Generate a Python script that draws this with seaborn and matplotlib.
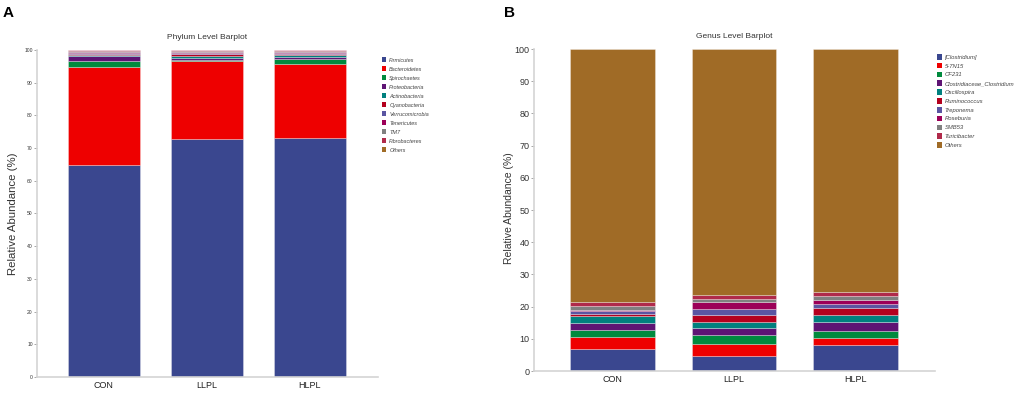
import numpy as np
import pandas as pd
import matplotlib
matplotlib.use("Agg")
import matplotlib.pyplot as plt
from matplotlib.patches import Patch
import seaborn as sns

# groups on the x axis
groups = ["CON", "LLPL", "HLPL"]

# phylum level, relative abundance (%) per group, bottom to top
phyla = ["Firmicutes", "Bacteroidetes", "Spirochaetes", "Proteobacteria", "Actinobacteria",
         "Cyanobacteria", "Verrucomicrobia", "Tenericutes", "TM7", "Fibrobacteres", "Others"]
phylum_con = [64.8, 30.0, 1.8, 1.5, 0.4, 0.3, 0.4, 0.3, 0.2, 0.2, 0.1]
phylum_llpl = [72.8, 23.7, 0.3, 0.8, 0.6, 0.4, 0.4, 0.5, 0.2, 0.2, 0.1]
phylum_hlpl = [73.2, 22.5, 1.5, 0.6, 0.5, 0.4, 0.3, 0.5, 0.2, 0.2, 0.1]

# genus level
genera = ["[Clostridium]", "5-7N15", "CF231", "Clostridiaceae_Clostridium", "Oscillospira",
          "Ruminococcus", "Treponema", "Roseburia", "SMB53", "Turicibacter", "Others"]
genus_con = [7.0, 3.5, 2.3, 2.1, 2.2, 0.7, 0.7, 0.6, 1.2, 1.0, 78.7]
genus_llpl = [4.7, 3.8, 2.7, 2.2, 1.9, 2.0, 1.9, 2.4, 0.9, 1.0, 76.5]
genus_hlpl = [8.1, 2.2, 2.0, 2.8, 2.2, 2.2, 1.4, 1.3, 1.2, 1.1, 75.5]

colors = ["#3a478f", "#ee0000", "#008a3e", "#5e1474", "#00807e", "#b4001e",
          "#5a55a2", "#9c0058", "#808080", "#b02a4a", "#a06b26"]

plt.rcParams["font.family"] = ["Liberation Sans", "DejaVu Sans"]


def stacked(ax, names, con, llpl, hlpl, tick_size, label_size, title, legend_xy, legend_size, spacing):
    """ draw one stacked barplot panel with seaborn, layer by layer """
    df = pd.DataFrame({"CON": con, "LLPL": llpl, "HLPL": hlpl}, index=names)
    bottoms = df.cumsum() - df
    for i, name in enumerate(names):
        sns.barplot(x=groups, y=df.loc[name].values, bottom=bottoms.loc[name].values,
                    color=colors[i], width=0.7, ax=ax, saturation=1,
                    edgecolor=(1, 1, 1, 0.35), linewidth=0.6)
    ax.set_xlim(-0.65, 2.66)
    ax.set_ylim(0, 100)
    ax.set_yticks(np.arange(0, 101, 10))
    for s in ["top", "right"]:
        ax.spines[s].set_visible(False)
    for s in ["left", "bottom"]:
        ax.spines[s].set_color("#d4d4d4")
        ax.spines[s].set_linewidth(1.2)
    ax.tick_params(axis="y", length=2, width=0.6, color="#999999", labelsize=tick_size,
                   labelcolor="#333333", pad=1)
    ax.tick_params(axis="x", length=0, labelsize=6.5, labelcolor="#222222", pad=3)
    ax.set_ylabel("Relative Abundance (%)", fontsize=label_size, color="#333333")
    ax.set_title(title, fontsize=6, color="#333333", pad=8)
    handles = [Patch(facecolor=c, edgecolor="none", label=n) for n, c in zip(names, colors)]
    leg = ax.figure.legend(handles=handles, loc="upper left", bbox_to_anchor=legend_xy,
                           frameon=False, fontsize=legend_size, handlelength=0.8, handleheight=1.1,
                           handletextpad=0.5, labelspacing=spacing, borderaxespad=0, borderpad=0)
    for t in leg.get_texts():
        t.set_fontstyle("italic")
        t.set_color("#444444")


fig = plt.figure(figsize=(10.21, 3.96), dpi=100)
ax_a = fig.add_axes([0.0362, 0.048, 0.334, 0.826])
ax_b = fig.add_axes([0.523, 0.063, 0.393, 0.813])

stacked(ax_a, phyla, phylum_con, phylum_llpl, phylum_hlpl, 3.6, 8.2, "Phylum Level Barplot",
        (382 / 1021, 1 - 57 / 396), 4.0, 0.62)
stacked(ax_b, genera, genus_con, genus_llpl, genus_hlpl, 6.5, 7.5, "Genus Level Barplot",
        (937 / 1021, 1 - 54 / 396), 4.2, 0.52)
ax_a.yaxis.set_label_coords(-0.056, 0.50)
ax_b.yaxis.set_label_coords(-0.05, 0.505)

fig.text(0.003, 0.985, "A", fontsize=11, fontweight="bold", va="top", ha="left")
fig.text(0.494, 0.985, "B", fontsize=11, fontweight="bold", va="top", ha="left")

fig.savefig("out.png", dpi=100)
